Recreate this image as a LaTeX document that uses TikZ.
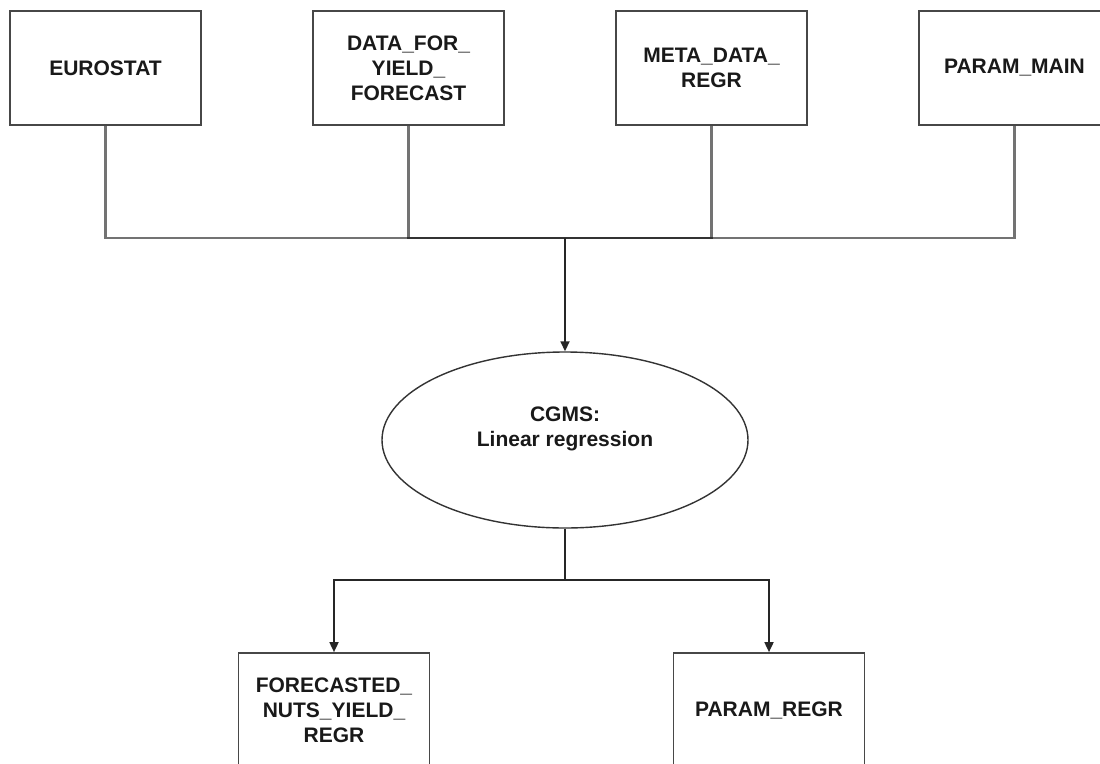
\documentclass[tikz,border=0pt]{standalone}
\usepackage{fontspec}
\setmainfont{Liberation Sans}
\usetikzlibrary{shapes.geometric,arrows.meta}
\begin{document}
\begin{tikzpicture}[x=1pt,y=-1pt,
  lbl/.style={font=\fontsize{21}{25}\selectfont\bfseries, text=black!90, align=center},
  box/.style={lbl, draw=black!72, line width=1.7pt, minimum width=191pt, minimum height=114pt, inner sep=0pt},
  proc/.style={ellipse, draw=black!80, line width=1.4pt, minimum width=366pt, minimum height=176pt, inner sep=0pt},
  link/.style={draw=black, line width=2.2pt, opacity=0.55},
  wire/.style={draw=black!85, line width=1.7pt},
  arr/.style={wire, -{Triangle[width=9pt,length=10pt]}}]
\useasboundingbox (0,0) rectangle (1100,763);
\clip (0,0) rectangle (1100,763);
\fill[white] (0,0) rectangle (1100,763);
\node[box] (eurostat) at (105.5,68) {EUROSTAT};
\node[box] (data) at (408.5,68) {DATA\_FOR\_\\YIELD\_\\FORECAST};
\node[box] (meta) at (711.5,68) {META\_DATA\_\\REGR};
\node[box] (parammain) at (1014.5,68) {PARAM\_MAIN};
\node[proc] (cgms) at (565,440) {};
\node[lbl] (cgmstext) at (565,429) {CGMS:\\Linear regression};
\node[box] (forecast) at (334,710) {FORECASTED\_\\NUTS\_YIELD\_\\REGR};
\node[box] (paramregr) at (769,710) {PARAM\_REGR};
\coordinate (j) at (565,238);
\coordinate (s) at (565,580);
\draw[link] (eurostat.south) |- (j);
\draw[link] (data.south) |- (j);
\draw[link] (meta.south) |- (j);
\draw[link] (parammain.south) |- (j);
\draw[arr] (j) -- (cgms.north);
\draw[wire] (cgms.south) -- (s);
\draw[arr] (s) -| (forecast.north);
\draw[arr] (s) -| (paramregr.north);
\end{tikzpicture}
\end{document}
